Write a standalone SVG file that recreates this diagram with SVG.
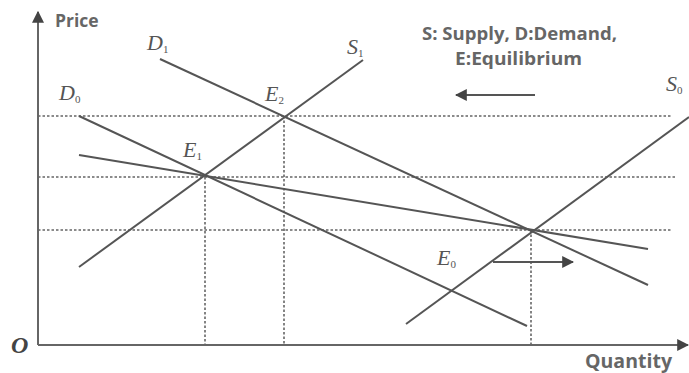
<svg xmlns="http://www.w3.org/2000/svg" width="689" height="373" viewBox="0 0 689 373">
<style>
.ax{stroke:#666;stroke-width:2;fill:none}
.ln{stroke:#555;stroke-width:2;fill:none}
.dot{stroke:#666;stroke-width:1.6;stroke-dasharray:2.5 2;fill:none}
.lab{font-family:"Liberation Serif",serif;font-style:italic;font-size:22px;fill:#555}
.sub{font-family:"Liberation Serif",serif;font-size:11px;fill:#555;font-style:normal}
.sans{font-family:"Open Sans","Liberation Sans",sans-serif;font-weight:bold;fill:#666}
</style>
<defs>
<marker id="ah" viewBox="0 0 10 10" refX="9" refY="5" markerWidth="6" markerHeight="6" orient="auto-start-reverse" markerUnits="strokeWidth">
<path d="M0,0 L10,5 L0,10 z" fill="#444"/>
</marker>
</defs>
<rect width="689" height="373" fill="#fff"/>
<g id="axes">
<line class="ax" x1="38" y1="345" x2="38" y2="12" marker-end="url(#ah)"/>
<line class="ax" x1="38" y1="345" x2="688" y2="345" marker-end="url(#ah)"/>
<text class="sans" x="55" y="27" font-size="17.5">Price</text>
<text x="11" y="353" font-family="Liberation Serif,serif" font-style="italic" font-weight="bold" font-size="24" fill="#444">O</text>
<text class="sans" x="585" y="368" font-size="19" textLength="87" lengthAdjust="spacingAndGlyphs">Quantity</text>
</g>
<g id="guides">
<line class="dot" x1="38" y1="116" x2="671" y2="116"/>
<line class="dot" x1="38" y1="177" x2="676" y2="177"/>
<line class="dot" x1="38" y1="230" x2="672" y2="230"/>
<line class="dot" x1="205" y1="177" x2="205" y2="345"/>
<line class="dot" x1="284" y1="116" x2="284" y2="345"/>
<line class="dot" x1="531" y1="230" x2="531" y2="345"/>
</g>
<g id="connectors">
<line id="D1" class="ln" x1="160" y1="59" x2="648" y2="285"/>
<line id="D0" class="ln" x1="79" y1="116" x2="527" y2="326"/>
<line id="Dflat" class="ln" x1="79" y1="155" x2="648" y2="249"/>
<line id="S1" class="ln" x1="79" y1="267" x2="363" y2="60"/>
<line id="S0" class="ln" x1="406" y1="324" x2="689" y2="117"/>
<line class="ln" x1="535" y1="95" x2="456" y2="95" marker-end="url(#ah)"/>
<line class="ln" x1="493" y1="262" x2="573" y2="262" marker-end="url(#ah)"/>
</g>
<g id="labels">
<text class="lab" x="147" y="50">D<tspan class="sub" dy="3">1</tspan></text>
<text class="lab" x="59" y="100">D<tspan class="sub" dy="3">0</tspan></text>
<text class="lab" x="347" y="54">S<tspan class="sub" dy="3">1</tspan></text>
<text class="lab" x="666" y="91">S<tspan class="sub" dy="3">0</tspan></text>
<text class="lab" x="265" y="101">E<tspan class="sub" dy="3">2</tspan></text>
<text class="lab" x="183" y="157">E<tspan class="sub" dy="3">1</tspan></text>
<text class="lab" x="437" y="265">E<tspan class="sub" dy="3">0</tspan></text>
</g>
<g id="legend">
<text class="sans" x="422" y="40" font-size="18" textLength="195" lengthAdjust="spacingAndGlyphs">S: Supply, D:Demand,</text>
<text class="sans" x="455" y="65" font-size="18" textLength="127" lengthAdjust="spacingAndGlyphs">E:Equilibrium</text>
</g>
</svg>
